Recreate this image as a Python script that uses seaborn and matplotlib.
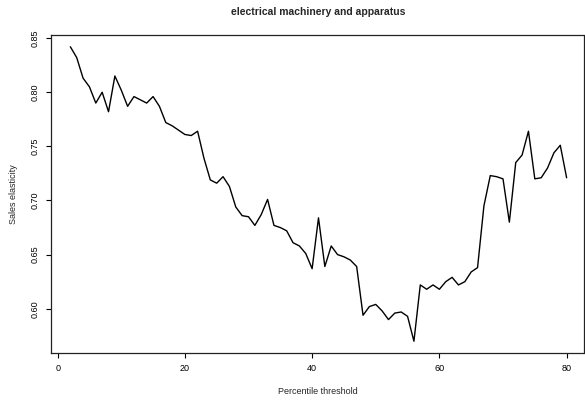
import matplotlib
matplotlib.use("Agg")
import matplotlib.pyplot as plt
import seaborn as sns
import pandas as pd

# Percentile thresholds and the estimated sales elasticity at each
thresholds = list(range(2, 81))
elasticity = [
    0.842, 0.832, 0.813, 0.805, 0.790, 0.800, 0.782, 0.815, 0.802, 0.787,
    0.796, 0.793, 0.790, 0.796, 0.787, 0.772, 0.769, 0.765, 0.761, 0.760,
    0.764, 0.739, 0.719, 0.716, 0.722, 0.713, 0.694, 0.686, 0.685, 0.677,
    0.687, 0.701, 0.677, 0.675, 0.672, 0.661, 0.658, 0.651, 0.637, 0.684,
    0.639, 0.658, 0.650, 0.648, 0.645, 0.639, 0.594, 0.602, 0.604, 0.598,
    0.590, 0.596, 0.597, 0.593, 0.570, 0.622, 0.618, 0.622, 0.618, 0.625,
    0.629, 0.622, 0.625, 0.634, 0.638, 0.695, 0.723, 0.722, 0.720, 0.680,
    0.735, 0.742, 0.764, 0.720, 0.721, 0.730, 0.744, 0.751, 0.721,
]
x_ticks = [0, 20, 40, 60, 80]
y_ticks = [0.60, 0.65, 0.70, 0.75, 0.80, 0.85]
y_tick_labels = ["0.60", "0.65", "0.70", "0.75", "0.80", "0.85"]

df = pd.DataFrame({"threshold": thresholds, "elasticity": elasticity})

sns.set_theme(style="ticks")
plt.rcParams["font.family"] = ["Liberation Sans", "DejaVu Sans"]

W, H = 585, 403
fig = plt.figure(figsize=(W / 100, H / 100), dpi=100)
ax = fig.add_axes([50.5 / W, 1 - 353 / H, (583.5 - 50.5) / W, (353 - 35) / H])

sns.lineplot(data=df, x="threshold", y="elasticity", ax=ax,
             color="black", linewidth=1.0)

# R-style 4% padding around the data range
xmin, xmax = min(thresholds), max(thresholds)
ymin, ymax = min(elasticity), max(elasticity)
dx, dy = 0.04 * (xmax - xmin), 0.04 * (ymax - ymin)
ax.set_xlim(xmin - dx, xmax + dx * 0.85)
ax.set_ylim(ymin - dy, ymax + dy)

ax.set_xticks(x_ticks)
ax.set_xticklabels([str(t) for t in x_ticks])
ax.set_yticks(y_ticks)
ax.set_yticklabels(y_tick_labels, rotation=90, va="center")

for side in ["left", "right", "top", "bottom"]:
    ax.spines[side].set_visible(True)
    ax.spines[side].set_color("#222222")
    ax.spines[side].set_linewidth(0.9)

ax.tick_params(axis="both", direction="out", length=3.6, width=0.8,
               colors="black", labelsize=6.5, pad=4)
ax.set_xlabel("")
ax.set_ylabel("")
ax.grid(False)

fig.text(318 / W, 1 - 12 / H, "electrical machinery and apparatus",
         ha="center", va="center", fontsize=7.5, fontweight="bold")
fig.text(318 / W, 1 - 391 / H, "Percentile threshold",
         ha="center", va="center", fontsize=6.5)
fig.text(13 / W, 1 - 194 / H, "Sales elasticity",
         ha="center", va="center", fontsize=6.5, rotation=90)

fig.savefig("out.png", dpi=100, facecolor="white")
